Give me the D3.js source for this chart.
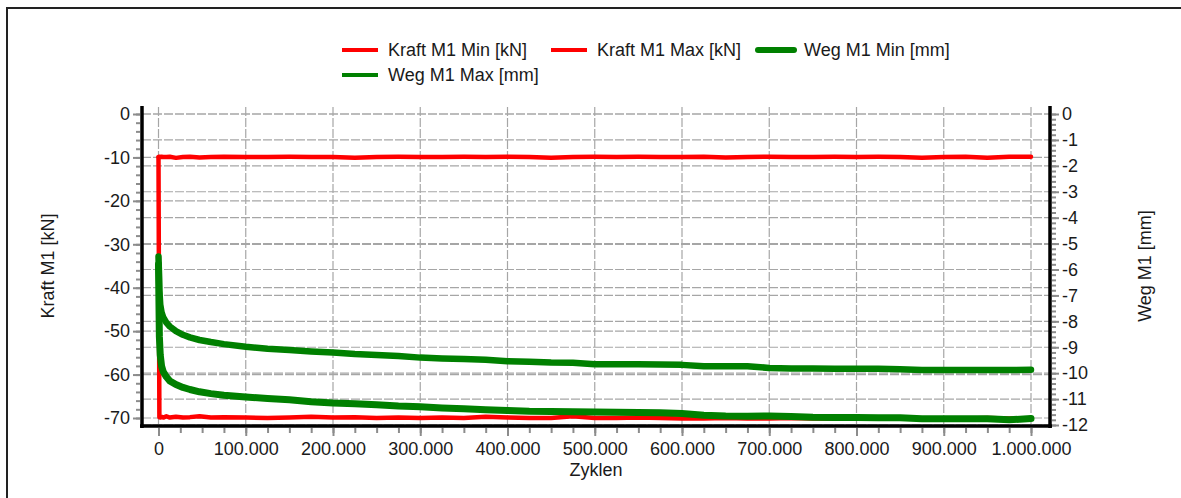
<!DOCTYPE html>
<html>
<head>
<meta charset="utf-8">
<script src="https://cdn.jsdelivr.net/npm/d3@7"></script>
<style>
  body { margin: 0; background: #fff; }
  svg { display: block; font-family: "Liberation Sans", Arial, sans-serif; }
</style>
</head>
<body>
<div id="chart"></div>
<script>
// cycles (x values) shared by all four series
var cycles = [0, 1000, 2000, 3500, 5500, 9000, 13000, 20000, 28000, 36000,
  47000, 60000, 75000, 100000, 125000, 150000, 175000, 200000, 225000, 250000,
  275000, 300000, 325000, 350000, 375000, 400000, 425000, 450000, 475000, 500000,
  525000, 550000, 575000, 600000, 625000, 650000, 675000, 700000, 725000, 750000,
  775000, 800000, 825000, 850000, 875000, 900000, 925000, 950000, 975000, 1000000];

// Kraft M1 Min [kN]
var kraftMin = [-10, -69.8, -69.9, -69.7, -69.9, -69.6, -69.9, -69.7, -69.9, -69.8,
  -69.6, -69.9, -69.8, -69.9, -70.0, -69.9, -69.7, -69.9, -69.8, -70.0,
  -69.9, -70.0, -69.9, -70.0, -69.7, -69.9, -70.0, -70.0, -69.6, -70.0,
  -70.0, -69.9, -70.0, -70.1, -70.1, -70.0, -70.1, -70.1, -70.0, -70.1,
  -70.1, -70.1, -70.0, -70.1, -70.1, -70.1, -70.1, -70.0, -70.1, -70.1];

// Kraft M1 Max [kN]
var kraftMax = [-9.9, -9.85, -9.9, -9.85, -9.9, -9.9, -9.85, -10.1, -9.9, -9.85,
  -10.0, -9.9, -9.85, -9.9, -9.9, -9.85, -9.9, -9.9, -10.1, -9.9,
  -9.85, -9.9, -9.9, -9.85, -9.9, -9.85, -9.9, -10.1, -9.9, -9.85,
  -9.9, -9.85, -9.9, -9.9, -9.85, -10.0, -9.9, -9.85, -9.9, -9.9,
  -9.85, -9.9, -9.85, -9.9, -10.1, -9.9, -9.85, -10.1, -9.85, -9.85];

// Weg M1 Min [mm]
var wegMin = [-5.8, -8.6, -9.3, -9.72, -9.95, -10.14, -10.3, -10.44, -10.55, -10.63,
  -10.72, -10.79, -10.85, -10.92, -10.98, -11.03, -11.1, -11.15, -11.18, -11.22,
  -11.27, -11.3, -11.34, -11.37, -11.41, -11.44, -11.47, -11.48, -11.49, -11.5,
  -11.51, -11.52, -11.53, -11.56, -11.62, -11.65, -11.66, -11.65, -11.67, -11.7,
  -11.71, -11.71, -11.72, -11.72, -11.76, -11.76, -11.76, -11.76, -11.8, -11.75];

// Weg M1 Max [mm]
var wegMax = [-5.5, -6.8, -7.35, -7.65, -7.85, -8.05, -8.2, -8.38, -8.52, -8.62,
  -8.72, -8.8, -8.88, -8.98, -9.06, -9.11, -9.16, -9.2, -9.26, -9.3,
  -9.34, -9.4, -9.43, -9.45, -9.48, -9.54, -9.56, -9.59, -9.6, -9.66,
  -9.66, -9.66, -9.67, -9.68, -9.73, -9.73, -9.73, -9.8, -9.82, -9.82,
  -9.83, -9.83, -9.83, -9.85, -9.88, -9.88, -9.88, -9.88, -9.88, -9.87];

var seriesNames = ["Kraft M1 Min [kN]", "Kraft M1 Max [kN]", "Weg M1 Min [mm]", "Weg M1 Max [mm]"];
var xTicks = d3.range(0, 1000001, 100000);
var xMinor = d3.range(0, 1000001, 25000);
var kraftTicks = d3.range(-70, 1, 10);
var kraftMinor = d3.range(-70, 1, 2);
var wegTicks = d3.range(-12, 1, 1);
var wegMinor = d3.range(-60, 1, 1).map(function(d) { return d / 5; });

var W = 1181, H = 498;
var plot = { left: 142, right: 1050, top: 107, bottom: 426 };

var de = d3.formatLocale({ decimal: ",", thousands: ".", grouping: [3], currency: ["", " €"], minus: "-" });
var fmtX = de.format(",");
var fmtY = de.format("d");

var x = d3.scaleLinear().domain([0, 1000000]).range([158.5, 1031]);
var yL = d3.scaleLinear().domain([-70, 0]).range([418, 114]);
var yR = d3.scaleLinear().domain([-12, 0]).range([425, 114]);

var svg = d3.select("#chart").append("svg")
  .attr("width", W).attr("height", H);

// outer frame
svg.append("rect")
  .attr("x", 7).attr("y", 8).attr("width", W + 20).attr("height", H + 20)
  .attr("fill", "none").attr("stroke", "#222").attr("stroke-width", 2);

// gridlines
var grid = svg.append("g").attr("class", "grid")
  .attr("stroke", "#a6a6a6").attr("stroke-width", 1.2).attr("stroke-dasharray", "9,2");
grid.selectAll("line.gx").data(xTicks).enter().append("line")
  .attr("x1", (d) => x(d)).attr("x2", (d) => x(d))
  .attr("y1", plot.top).attr("y2", plot.bottom);
grid.selectAll("line.gl").data(kraftTicks).enter().append("line")
  .attr("x1", plot.left).attr("x2", plot.right)
  .attr("y1", (d) => yL(d)).attr("y2", (d) => yL(d));
grid.selectAll("line.gr").data(wegTicks).enter().append("line")
  .attr("x1", plot.left).attr("x2", plot.right)
  .attr("y1", (d) => yR(d)).attr("y2", (d) => yR(d));

// series lines
var seriesData = [
  { vals: kraftMin, color: "#ff0000", width: 4.5, y: yL },
  { vals: kraftMax, color: "#ff0000", width: 4.5, y: yL },
  { vals: wegMin, color: "#008000", width: 7, y: yR },
  { vals: wegMax, color: "#008000", width: 6.5, y: yR }
];
seriesData.forEach(function(s) {
  var line = d3.line()
    .x((d, i) => x(cycles[i]))
    .y((d) => s.y(d));
  svg.append("path")
    .datum(s.vals)
    .attr("d", line)
    .attr("fill", "none")
    .attr("stroke", s.color)
    .attr("stroke-width", s.width)
    .attr("stroke-linejoin", "round")
    .attr("stroke-linecap", "round");
});

// axes
svg.append("g").attr("transform", "translate(" + (plot.left - 2) + ",0)")
  .call(d3.axisLeft(yL).tickValues(kraftTicks).tickFormat(fmtY).tickSize(7).tickPadding(3));
svg.append("g").attr("transform", "translate(" + (plot.left - 2) + ",0)")
  .call(d3.axisLeft(yL).tickValues(kraftMinor).tickFormat("").tickSize(4));

svg.append("g").attr("transform", "translate(" + (plot.right + 2) + ",0)")
  .call(d3.axisRight(yR).tickValues(wegTicks).tickFormat(fmtY).tickSize(7).tickPadding(3));
svg.append("g").attr("transform", "translate(" + (plot.right + 2) + ",0)")
  .call(d3.axisRight(yR).tickValues(wegMinor).tickFormat("").tickSize(4));

svg.append("g").attr("transform", "translate(0," + (plot.bottom + 2) + ")")
  .call(d3.axisBottom(x).tickValues(xTicks).tickFormat(fmtX).tickSize(8).tickPadding(6));
svg.append("g").attr("transform", "translate(0," + (plot.bottom + 2) + ")")
  .call(d3.axisBottom(x).tickValues(xMinor).tickFormat("").tickSize(5));

svg.selectAll(".domain").remove();
svg.selectAll(".tick line").attr("stroke", "#8c8c8c").attr("stroke-width", 2);
svg.selectAll(".tick text").attr("font-size", "18px").attr("fill", "#1a1a1a")
  .attr("font-family", "'Liberation Sans', Arial, sans-serif");

// thick black axis lines
var axisLines = svg.append("g").attr("stroke", "#000").attr("stroke-width", 3.5);
axisLines.append("line").attr("x1", plot.left).attr("x2", plot.left).attr("y1", plot.top - 1).attr("y2", plot.bottom + 2);
axisLines.append("line").attr("x1", plot.right).attr("x2", plot.right).attr("y1", plot.top - 1).attr("y2", plot.bottom + 2);
axisLines.append("line").attr("x1", plot.left - 2).attr("x2", plot.right + 2).attr("y1", plot.bottom).attr("y2", plot.bottom);

// axis titles
svg.append("text").text("Kraft M1 [kN]")
  .attr("transform", "translate(54,266) rotate(-90)")
  .attr("text-anchor", "middle").attr("font-size", "18px").attr("fill", "#1a1a1a");
svg.append("text").text("Weg M1 [mm]")
  .attr("transform", "translate(1151,266) rotate(-90)")
  .attr("text-anchor", "middle").attr("font-size", "18px").attr("fill", "#1a1a1a");
svg.append("text").text("Zyklen")
  .attr("x", 596).attr("y", 476)
  .attr("text-anchor", "middle").attr("font-size", "18px").attr("fill", "#1a1a1a");

// legend
var legendPos = [[342, 50], [551, 50], [758, 50], [342, 75]];
var legend = svg.append("g").attr("class", "legend");
seriesNames.forEach(function(name, i) {
  var s = seriesData[i];
  var g = legend.append("g").attr("transform", "translate(" + legendPos[i][0] + "," + legendPos[i][1] + ")");
  g.append("line").attr("x1", 0).attr("x2", 36).attr("y1", 0).attr("y2", 0)
    .attr("stroke", s.color).attr("stroke-width", i == 2 ? 6 : 4)
    .attr("stroke-linecap", i == 2 ? "round" : "butt");
  g.append("text").text(name)
    .attr("x", 46).attr("y", 0).attr("dy", "0.35em")
    .attr("font-size", "18px").attr("fill", "#1a1a1a");
});
</script>
</body>
</html>
